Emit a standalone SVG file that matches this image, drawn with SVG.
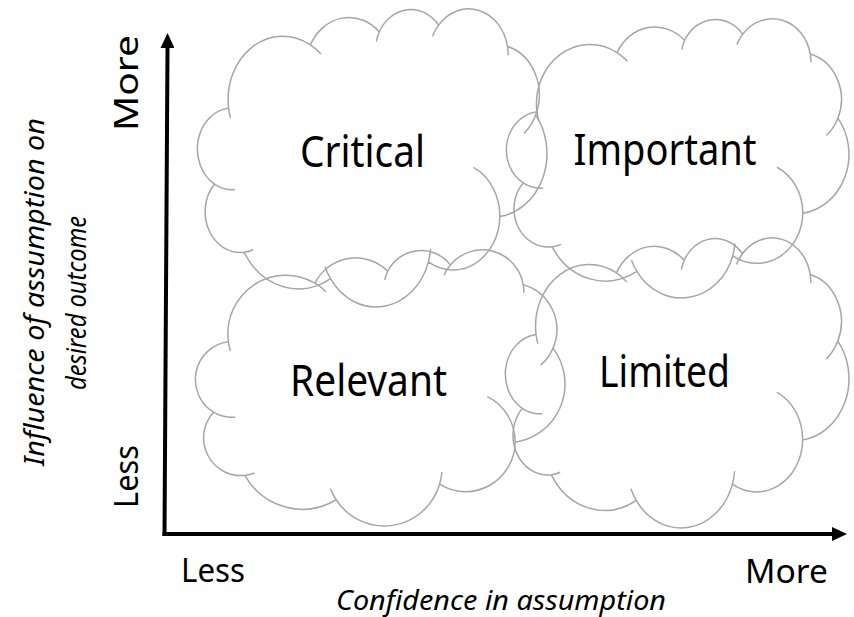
<svg xmlns="http://www.w3.org/2000/svg" xmlns:xlink="http://www.w3.org/1999/xlink" width="854" height="617" viewBox="0 0 854 617">
  <style>
    .cloud { fill: none; stroke: #a6a6a6; stroke-width: 1.5; }
    .label { font-family: "Noto Sans", "Open Sans", "Liberation Sans", sans-serif; font-size: 43px; fill: #000; }
    .tick { font-family: "Noto Sans", "Open Sans", "Liberation Sans", sans-serif; font-size: 33px; fill: #000; }
    .title { font-family: "Noto Sans", "Open Sans", "Liberation Sans", sans-serif; font-style: italic; font-size: 27px; fill: #000; }
    .axis { fill: none; stroke: #000; stroke-width: 4; }
  </style>
  <defs>
    <!-- cloud outline in a 43200 x 43200 unit box, with the inner lobe creases -->
    <path id="cloudShape" vector-effect="non-scaling-stroke" d="M3900 14370 A6753 9190 0 0 1 14000 5192 A5333 7267 0 0 1 22500 3330 A4365 5945 0 0 1 29820 2341 A4857 6595 0 0 1 38324 5426 A5333 7273 0 0 1 41798 15354 A6775 9220 0 0 1 37380 30090 A5785 7867 0 0 1 28560 36660 A6752 9215 0 0 1 16478 39090 A7720 10543 0 0 1 5820 35280 A4360 5918 0 0 1 2160 25380 A4345 5945 0 0 1 3900 14370 Z M4693 26177 A4345 5945 0 0 1 2160 25380 M6928 34899 A4360 5918 0 0 1 5820 35280 M16478 39090 A6752 9215 0 0 1 15810 37350 M28827 34751 A6752 9215 0 0 1 28560 36660 M34129 22954 A5785 7867 0 0 1 37380 30090 M41798 15354 A5333 7273 0 0 1 40350 18030 M38324 5426 A4857 6595 0 0 1 38400 6690 M29078 3952 A4857 6595 0 0 1 29820 2341 M22141 4720 A4365 5945 0 0 1 22500 3330 M14000 5192 A6753 9190 0 0 1 15299 6540 M4127 15789 A6753 9190 0 0 1 3900 14370"/>
    <marker id="arrow" markerUnits="userSpaceOnUse" viewBox="0 0 15 14" markerWidth="15" markerHeight="14" refX="0" refY="7" orient="auto">
      <path d="M0,0 L15,7 L0,14 Z" fill="#000"/>
    </marker>
  </defs>

  <g id="critical">
    <use xlink:href="#cloudShape" class="cloud" transform="translate(197,9) scale(0.0081019,0.0068981)"/>
    <text class="label" x="300" y="166.7" textLength="125" lengthAdjust="spacingAndGlyphs">Critical</text>
  </g>
  <g id="important">
    <use xlink:href="#cloudShape" class="cloud" transform="translate(506,19) scale(0.0079398,0.0064583)"/>
    <text class="label" x="573.5" y="165" textLength="183" lengthAdjust="spacingAndGlyphs">Important</text>
  </g>
  <g id="relevant">
    <use xlink:href="#cloudShape" class="cloud" transform="translate(195,250) scale(0.0085648,0.0063889)"/>
    <text class="label" x="290" y="396" textLength="157" lengthAdjust="spacingAndGlyphs">Relevant</text>
  </g>
  <g id="limited">
    <use xlink:href="#cloudShape" class="cloud" transform="translate(505,238) scale(0.0079630,0.0067130)"/>
    <text class="label" x="599" y="386.7" textLength="131" lengthAdjust="spacingAndGlyphs">Limited</text>
  </g>

  <g id="connectors">
    <path class="axis" d="M164.5,536 L167.5,48" marker-end="url(#arrow)"/>
    <path class="axis" d="M162.5,534 L832,534" marker-end="url(#arrow)"/>
  </g>

  <g id="axis-labels">
    <text class="tick" transform="translate(137.5,131) rotate(-90)" textLength="96" lengthAdjust="spacingAndGlyphs">More</text>
    <text class="tick" transform="translate(138,508) rotate(-90)" textLength="63" lengthAdjust="spacingAndGlyphs">Less</text>
    <text class="tick" x="181" y="581.7" textLength="64" lengthAdjust="spacingAndGlyphs">Less</text>
    <text class="tick" x="745" y="583.3" textLength="83" lengthAdjust="spacingAndGlyphs">More</text>
    <text class="title" x="336" y="610" textLength="330" lengthAdjust="spacingAndGlyphs">Confidence in assumption</text>
    <text class="title" transform="translate(44,466) rotate(-90)" textLength="348" lengthAdjust="spacingAndGlyphs">Influence of assumption on</text>
    <text class="title" transform="translate(85.5,390) rotate(-90)" font-size="26" textLength="174" lengthAdjust="spacingAndGlyphs">desired outcome</text>
  </g>
</svg>
